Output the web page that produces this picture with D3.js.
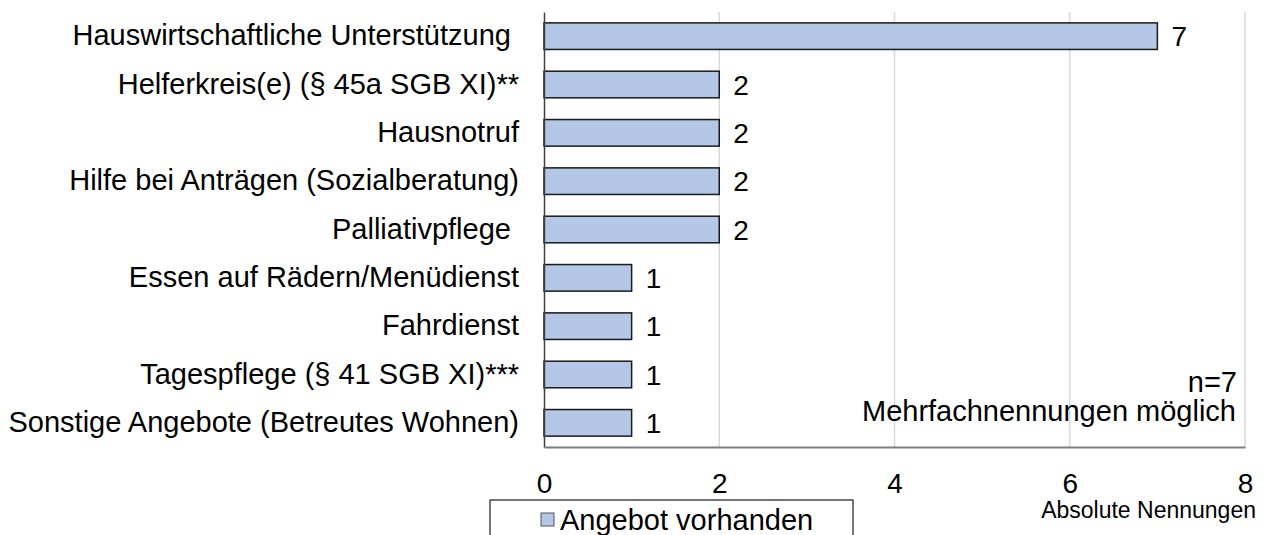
<!DOCTYPE html>
<html lang="en">
<head>
<meta charset="UTF-8">
<title>Angebote</title>
<script src="https://d3js.org/d3.v7.min.js"></script>
<style>
  body { margin: 0; background: #fff; }
  svg text { font-family: "Liberation Sans", Arial, sans-serif; fill: #000; }
</style>
</head>
<body>
<svg width="1267" height="535"></svg>
<script>
// data
const categories = [
  'Hauswirtschaftliche Unterstützung\u00a0',
  'Helferkreis(e) (§ 45a SGB XI)**',
  'Hausnotruf',
  'Hilfe bei Anträgen (Sozialberatung)',
  'Palliativpflege\u00a0',
  'Essen auf Rädern/Menüdienst',
  'Fahrdienst',
  'Tagespflege (§ 41 SGB XI)***',
  'Sonstige Angebote (Betreutes Wohnen)'
];
const values = [7, 2, 2, 2, 2, 1, 1, 1, 1];
const xTicks = [0, 2, 4, 6, 8];
const seriesName = 'Angebot vorhanden';

const svg = d3.select('svg');
const font = '"Liberation Sans", Arial, sans-serif';

const x = d3.scaleLinear().domain([0, 8]).range([544, 1245]);
const y = d3.scaleBand().domain(categories).range([12, 447]).paddingInner(0.45).paddingOuter(0.225);

// gridlines
svg.append('g')
  .selectAll('line')
  .data(xTicks.filter(d => d > 0))
  .enter().append('line')
  .attr('x1', d => x(d)).attr('x2', d => x(d))
  .attr('y1', 12).attr('y2', 447)
  .attr('stroke', '#d9d9d9').attr('stroke-width', 1.5);

// bars
svg.append('g')
  .selectAll('rect')
  .data(values)
  .enter().append('rect')
  .attr('x', x(0))
  .attr('y', (d, i) => y(categories[i]))
  .attr('width', d => x(d) - x(0))
  .attr('height', y.bandwidth())
  .attr('fill', '#b4c7e7')
  .attr('stroke', '#1a1a1a')
  .attr('stroke-width', 1.5);

// value labels
svg.append('g')
  .selectAll('text')
  .data(values)
  .enter().append('text')
  .attr('x', d => x(d) + 14)
  .attr('y', (d, i) => y(categories[i]) + y.bandwidth() / 2)
  .attr('dy', '0.36em')
  .style('font-size', '28px')
  .text(d => d);

// y axis
const yAxis = svg.append('g')
  .attr('transform', `translate(${x(0)},0)`)
  .call(d3.axisLeft(y).tickSize(0).tickPadding(25));
yAxis.select('.domain').attr('stroke', '#404040').attr('stroke-width', 1.5);
yAxis.selectAll('text')
  .style('font-size', '29px')
  .style('font-family', font)
  .attr('fill', '#000');

// x axis
const xAxis = svg.append('g')
  .attr('transform', 'translate(0,447)')
  .call(d3.axisBottom(x).tickValues(xTicks).tickSize(0).tickPadding(26));
xAxis.select('.domain').attr('stroke', '#7f7f7f').attr('stroke-width', 2);
xAxis.selectAll('text')
  .style('font-size', '28px')
  .style('font-family', font)
  .attr('fill', '#000');

// axis title
svg.append('text')
  .attr('x', 1256).attr('y', 518)
  .attr('text-anchor', 'end')
  .style('font-size', '23px')
  .text('Absolute Nennungen');

// notes
svg.append('text')
  .attr('x', 1237).attr('y', 392)
  .attr('text-anchor', 'end')
  .style('font-size', '29px')
  .text('n=7');
svg.append('text')
  .attr('x', 1236).attr('y', 421)
  .attr('text-anchor', 'end')
  .style('font-size', '29px')
  .text('Mehrfachnennungen möglich');

// legend
const legend = svg.append('g');
legend.append('rect')
  .attr('x', 490).attr('y', 500)
  .attr('width', 363).attr('height', 45)
  .attr('fill', '#fff')
  .attr('stroke', '#1a1a1a')
  .attr('stroke-width', 1.2);
legend.append('rect')
  .attr('x', 541).attr('y', 513)
  .attr('width', 13).attr('height', 13)
  .attr('fill', '#b4c7e7')
  .attr('stroke', '#555')
  .attr('stroke-width', 1);
legend.append('text')
  .attr('x', 560).attr('y', 530)
  .style('font-size', '29px')
  .text(seriesName);
</script>
</body>
</html>
